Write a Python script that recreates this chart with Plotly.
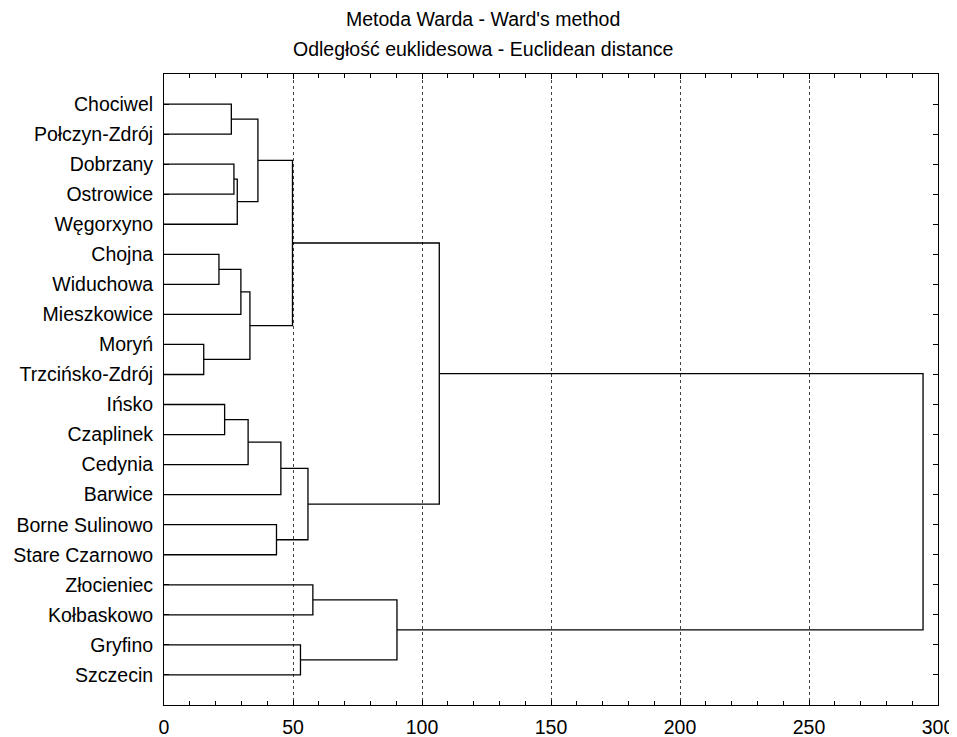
import plotly.graph_objects as go

# Leaf labels in display order (top to bottom)
labels = ["Chociwel", "Połczyn-Zdrój", "Dobrzany", "Ostrowice", "Węgorxyno",
          "Chojna", "Widuchowa", "Mieszkowice", "Moryń", "Trzcińsko-Zdrój",
          "Ińsko", "Czaplinek", "Cedynia", "Barwice", "Borne Sulinowo",
          "Stare Czarnowo", "Złocieniec", "Kołbaskowo", "Gryfino", "Szczecin"]

# Linkage: (cluster a, cluster b, linkage distance); new cluster ids start at 20
merge_a = [0, 2, 21, 20, 5, 24, 8, 25, 23, 10, 29, 30, 14, 31, 28, 16, 18, 35, 34]
merge_b = [1, 3, 4, 22, 6, 7, 9, 26, 27, 11, 12, 13, 15, 32, 33, 17, 19, 36, 37]
merge_h = [26.1, 27.1, 28.4, 36.4, 21.3, 29.8, 15.4, 33.3, 49.8, 23.5, 32.6, 45.3,
           43.6, 55.8, 106.7, 57.7, 52.9, 90.3, 294.2]

x_ticks = [0, 50, 100, 150, 200, 250, 300]

n = len(labels)
pos = {i: float(i) for i in range(n)}
hgt = {i: 0.0 for i in range(n)}
xs, ys = [], []
for k, (a, b, h) in enumerate(zip(merge_a, merge_b, merge_h)):
    cid = n + k
    xs += [hgt[a], h, h, hgt[b], None]
    ys += [pos[a], pos[a], pos[b], pos[b], None]
    pos[cid] = (pos[a] + pos[b]) / 2
    hgt[cid] = h

fig = go.Figure()
fig.add_trace(go.Scatter(x=xs, y=ys, mode="lines",
                         line=dict(color="black", width=1.3),
                         hoverinfo="skip", showlegend=False))

font_main = "Liberation Sans, Arial, sans-serif"

# page body has an 8px margin, so the figure is sized/offset to compensate
fig.update_layout(
    width=949, height=729,
    margin=dict(l=156, r=19, t=66, b=32, autoexpand=False),
    paper_bgcolor="white", plot_bgcolor="white",
    font=dict(family=font_main, size=19.5, color="black"),
    showlegend=False,
    annotations=[
        dict(text="Metoda Warda - Ward's method", xref="paper", yref="paper",
             x=0.412, y=1.087, xanchor="center", yanchor="middle",
             showarrow=False, font=dict(size=19.5)),
        dict(text="Odległość euklidesowa - Euclidean distance", xref="paper", yref="paper",
             x=0.412, y=1.04, xanchor="center", yanchor="middle",
             showarrow=False, font=dict(size=19.5)),
    ],
)
fig.update_xaxes(
    range=[0, 300], tickvals=x_ticks, ticktext=[str(v) for v in x_ticks],
    ticks="inside", ticklen=5, tickwidth=1, tickcolor="black",
    minor=dict(ticks="inside", dtick=10, ticklen=4, tickwidth=1, tickcolor="black", showgrid=False),
    showline=True, linecolor="black", linewidth=1, mirror="ticks",
    showgrid=True, gridcolor="#444444", griddash="dot", gridwidth=1,
    zeroline=False, ticklabelstandoff=5, automargin=False,
    tickfont=dict(size=19.5),
)
fig.update_yaxes(
    range=[n, -1], tickvals=list(range(n)), ticktext=labels,
    ticks="inside", ticklen=5, tickwidth=1, tickcolor="black",
    showline=True, linecolor="black", linewidth=1, mirror="ticks",
    showgrid=False, zeroline=False, ticklabelstandoff=6, automargin=False,
    tickfont=dict(size=19.5),
)

fig.write_html("out.html")
